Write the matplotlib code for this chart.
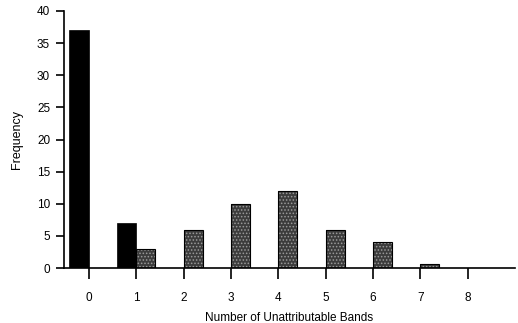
import matplotlib
matplotlib.use("Agg")
import matplotlib.pyplot as plt
import numpy as np

plt.rcParams['font.family'] = ['Liberation Sans', 'DejaVu Sans']
plt.rcParams['hatch.linewidth'] = 0.7

categories = [0, 1, 2, 3, 4, 5, 6, 7, 8]
black_values = [37, 7, 0, 0, 0, 0, 0, 0, 0]
gray_values = [0, 3, 6, 10, 12, 6, 4, 0.6, 0]
y_ticks = [0, 5, 10, 15, 20, 25, 30, 35, 40]

fig = plt.figure(figsize=(5.18, 3.23), dpi=100)
ax = fig.add_axes([0.1236, 0.170, 0.994 - 0.1236, 0.966 - 0.170])

x = np.array(categories)
ax.bar(x, black_values, width=-0.42, align='edge', color='black', edgecolor='black', linewidth=0.5)
# stippled fill
ax.bar(x, gray_values, width=0.4, align='edge', color='#3c3c3c', edgecolor='#9a9a9a',
       linewidth=0, hatch='.....')
# outline
ax.bar(x, gray_values, width=0.4, align='edge', color='none', edgecolor='black', linewidth=0.8)

ax.set_xlim(-0.53, 9.0)
ax.set_ylim(0, 40)
ax.set_xticks(categories)
ax.set_yticks(y_ticks)
for s in ['top', 'right']:
    ax.spines[s].set_visible(False)
for s in ['left', 'bottom']:
    ax.spines[s].set_linewidth(1.2)
ax.tick_params(axis='x', direction='out', length=8, width=1.2, pad=9, labelsize=8.5)
ax.tick_params(axis='y', direction='out', length=6, width=1.2, pad=4, labelsize=8.5)
ax.set_xlabel('Number of Unattributable Bands', fontsize=8.5, labelpad=6)
ax.set_ylabel('Frequency', fontsize=9, labelpad=10)

fig.savefig('out.png', dpi=100)
